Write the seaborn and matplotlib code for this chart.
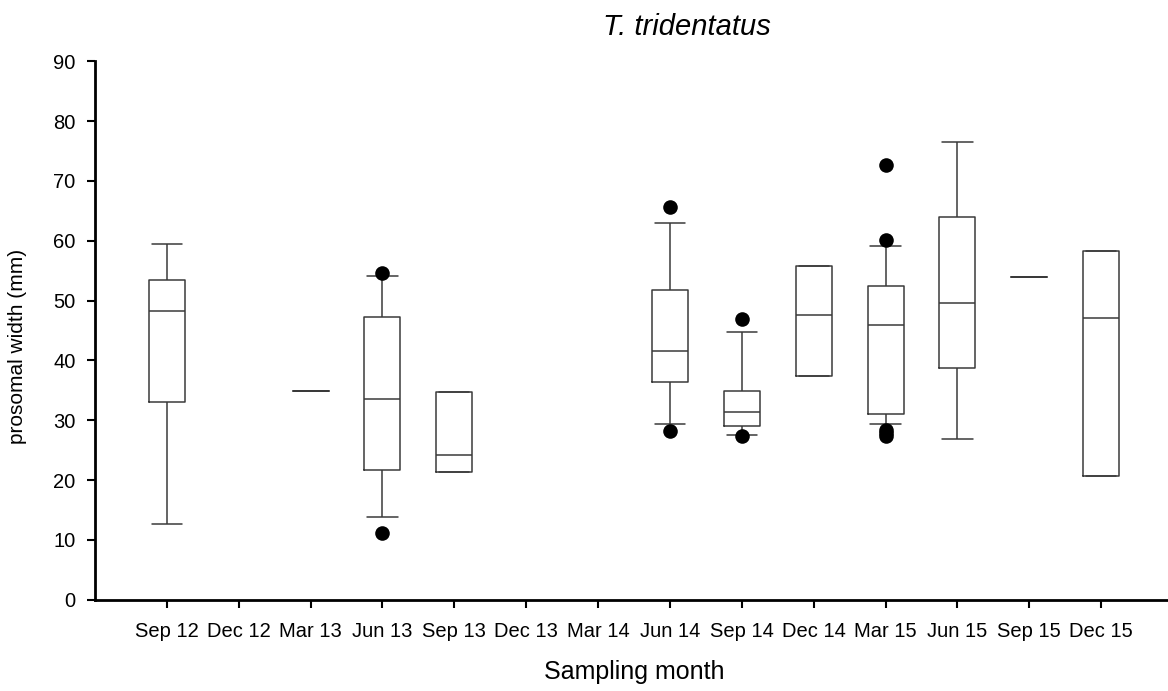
# box plot of prosomal width per sampling month (T. tridentatus)
import matplotlib
matplotlib.use("Agg")
import matplotlib.pyplot as plt
import numpy as np
import pandas as pd
import seaborn as sns

months = ["Sep 12", "Dec 12", "Mar 13", "Jun 13", "Sep 13", "Dec 13", "Mar 14",
          "Jun 14", "Sep 14", "Dec 14", "Mar 15", "Jun 15", "Sep 15", "Dec 15"]

# summary values (None = no sample that month)
whisker_low = [12.7, None, 34.85, 13.8, 21.35, None, None, 29.4, 27.5, 37.35, 29.4, 26.8, 54.0, 20.75]
q1 = [33.1, None, 34.85, 21.7, 21.35, None, None, 36.35, 29.0, 37.35, 31.05, 38.7, 54.0, 20.75]
median = [48.2, None, 34.85, 33.6, 24.2, None, None, 41.6, 31.4, 47.55, 45.9, 49.6, 54.0, 47.05]
q3 = [53.5, None, 34.85, 47.2, 34.8, None, None, 51.8, 34.95, 55.7, 52.5, 63.9, 54.0, 58.2]
whisker_high = [59.4, None, 34.85, 54.1, 34.8, None, None, 63.0, 44.8, 55.7, 59.15, 76.5, 54.0, 58.2]

outlier_month = ["Jun 13", "Jun 13", "Jun 14", "Jun 14", "Sep 14", "Sep 14",
                 "Mar 15", "Mar 15", "Mar 15", "Mar 15", "Mar 15"]
outlier_value = [54.6, 11.1, 65.7, 28.2, 47.0, 27.4, 72.6, 60.1, 28.3, 27.8, 27.4]

rows = []
for i, m in enumerate(months):
    if median[i] is None:
        continue
    for v in (whisker_low[i], q1[i], median[i], q3[i], whisker_high[i]):
        rows.append({"month": m, "width": v})
df = pd.DataFrame(rows)
out_df = pd.DataFrame({"month": outlier_month, "width": outlier_value})

sns.set_style("ticks")
plt.rcParams["font.family"] = ["Liberation Sans", "DejaVu Sans"]
plt.rcParams["text.color"] = "black"
plt.rcParams["axes.labelcolor"] = "black"
plt.rcParams["xtick.color"] = "black"
plt.rcParams["ytick.color"] = "black"

fig = plt.figure(figsize=(11.68, 6.91), dpi=100)
ax = fig.add_axes([0.0813, 0.132, 0.923, 0.7795])

line_col = "#3a3a3a"
sns.boxplot(data=df, x="month", y="width", order=months, whis=(0, 100),
            width=0.5, fill=False, color=line_col, linewidth=1.1, ax=ax)

# widen the caps (seaborn draws them narrow)
for ln in ax.lines:
    xd = np.asarray(ln.get_xdata(), dtype=float)
    yd = np.asarray(ln.get_ydata(), dtype=float)
    if len(xd) == 2 and yd[0] == yd[1]:
        span = abs(xd[1] - xd[0])
        if 0 < span < 0.45:
            c = xd.mean()
            ln.set_xdata([c - 0.21, c + 0.21])

sns.stripplot(data=out_df, x="month", y="width", order=months, jitter=False,
              color="black", size=10.5, ax=ax)

ax.set_xlim(-1, 14)
ax.set_ylim(0, 90)
ax.set_yticks(np.arange(0, 91, 10))

sns.despine(ax=ax)
for s in ("left", "bottom"):
    ax.spines[s].set_linewidth(2)
    ax.spines[s].set_color("black")
ax.tick_params(direction="out", length=6, width=1.5, color="black",
               labelcolor="black", labelsize=14.5, pad=8)
ax.tick_params(axis="x", pad=10)

ax.set_xlabel("Sampling month", fontsize=18, labelpad=14)
ax.set_ylabel("prosomal width (mm)", fontsize=15)
ax.yaxis.set_label_coords(-0.063, 0.47)

fig.text(0.588, 0.95, "T. tridentatus", fontsize=21, style="italic",
         ha="center", va="baseline")

fig.savefig("out.png", dpi=100)
plt.close(fig)
